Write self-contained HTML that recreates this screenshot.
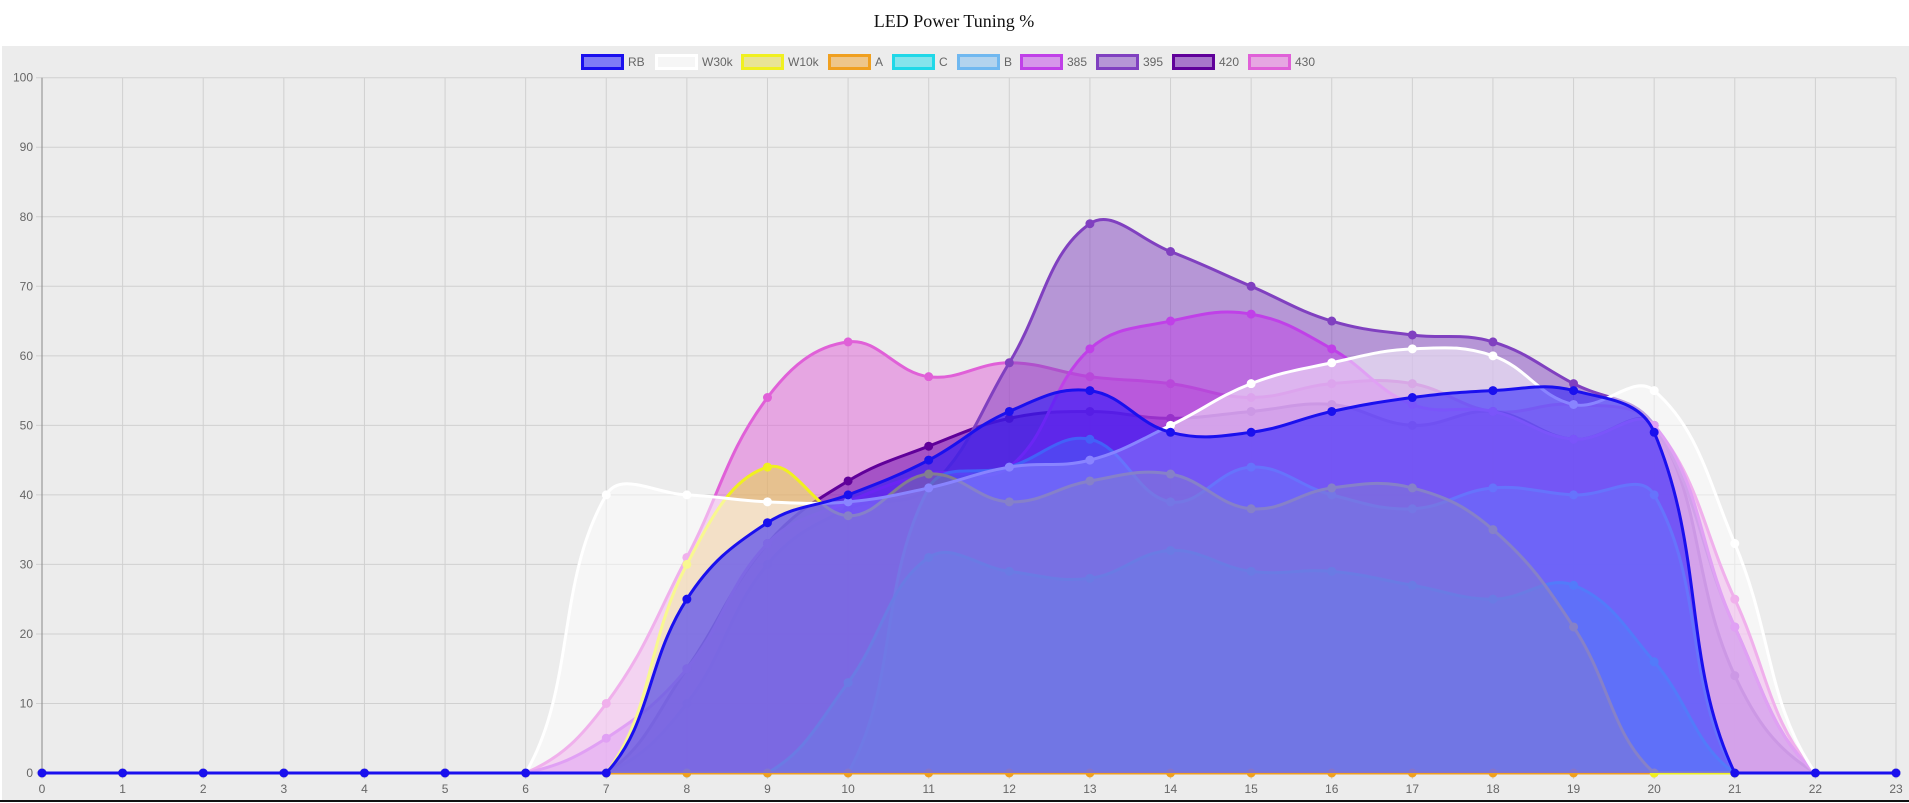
<!DOCTYPE html>
<html><head><meta charset="utf-8"><style>
html,body{margin:0;padding:0;background:#fff;width:1909px;height:803px;overflow:hidden}
svg{display:block}
</style></head><body>
<svg id="c" width="1909" height="803" xmlns="http://www.w3.org/2000/svg" font-family="Liberation Sans, sans-serif">
<rect x="2" y="46" width="1907" height="754" fill="#ececec"/>
<line x1="0" y1="801" x2="1909" y2="801" stroke="#111" stroke-width="2"/>
<text x="954" y="27" text-anchor="middle" font-family="Liberation Serif, serif" font-size="18" fill="#111">LED Power Tuning %</text>
<g id="grid"></g>
<g id="series"></g>
<g id="legend" font-size="12" fill="#666"></g>
</svg>
<script>
const X0=42,DX=(1896-42)/23,Y0=773,YH=695.3;
const xp=i=>X0+i*DX, yp=v=>Y0-v*YH/100;
const ns="http://www.w3.org/2000/svg";
function el(t,a,p){const e=document.createElementNS(ns,t);for(const k in a)e.setAttribute(k,a[k]);p.appendChild(e);return e;}
const g=document.getElementById('grid');
for(let v=0;v<=100;v+=10){el('line',{x1:X0-6,x2:1896,y1:yp(v),y2:yp(v),stroke:'#d0d0d0','stroke-width':1},g);
 const t=el('text',{x:X0-9,y:yp(v)+4,'text-anchor':'end','font-size':12,fill:'#666'},g);t.textContent=v;}
for(let i=0;i<=23;i++){el('line',{x1:xp(i),x2:xp(i),y1:yp(100),y2:Y0+6,stroke:'#d0d0d0','stroke-width':1},g);
 const t=el('text',{x:xp(i),y:Y0+20,'text-anchor':'middle','font-size':12,fill:'#666'},g);t.textContent=i;}
el('line',{x1:X0,x2:X0,y1:yp(100),y2:Y0,stroke:'#888'},g);
el('line',{x1:X0,x2:1896,y1:Y0,y2:Y0,stroke:'#888'},g);
const z=n=>Array(n).fill(0);
const S=[
['RB','#1a10ee','rgba(20,10,255,0.5)',[...z(8),25,36,40,45,52,55,49,49,52,54,55,55,49,0,0,0]],
['W30k','#ffffff','rgba(255,255,255,0.5)',[...z(7),40,40,39,39,41,44,45,50,56,59,61,60,53,55,33,0,0]],
['W10k','#f0f020','rgba(230,220,60,0.5)',[...z(8),30,44,37,43,39,42,43,38,41,41,35,21,0,0,0,0]],
['A','#f0a020','rgba(240,160,40,0.5)',z(24)],
['C','#20d8e8','rgba(30,220,235,0.5)',[...z(10),13,31,29,28,32,29,29,27,25,27,16,0,0,0]],
['B','#70b8f0','rgba(120,185,240,0.5)',[...z(11),41,44,48,39,44,40,38,41,40,40,0,0,0]],
['385','#c040e8','rgba(192,64,232,0.5)',[...z(7),5,15,33,39,43,44,61,65,66,61,53,52,48,50,21,0,0]],
['395','#8040c0','rgba(128,64,192,0.5)',[...z(8),10,30,38,41,59,79,75,70,65,63,62,56,50,21,0,0]],
['420','#60009a','rgba(100,0,170,0.5)',[...z(8),15,33,42,47,51,52,51,52,53,50,52,48,50,14,0,0]],
['430','#e060d8','rgba(224,96,216,0.5)',[...z(7),10,31,54,62,57,59,57,56,54,56,56,52,53,50,25,0,0]],
];
function path(d){
 const P=d.map((v,i)=>[xp(i),yp(v)]);const n=P.length,t=0.4;const cp=[];
 for(let i=0;i<n;i++){const p=P[Math.max(0,i-1)],c=P[i],nx=P[Math.min(n-1,i+1)];
  const d01=Math.hypot(c[0]-p[0],c[1]-p[1]),d12=Math.hypot(nx[0]-c[0],nx[1]-c[1]);
  let s01=d01/(d01+d12)||0,s12=d12/(d01+d12)||0;const fa=t*s01,fb=t*s12;
  let pcy=c[1]-fa*(nx[1]-p[1]),ncy=c[1]+fb*(nx[1]-p[1]);
  pcy=Math.min(Y0,Math.max(yp(100),pcy));ncy=Math.min(Y0,Math.max(yp(100),ncy));
  cp.push([[c[0]-fa*(nx[0]-p[0]),pcy],[c[0]+fb*(nx[0]-p[0]),ncy]]);}
 let s='M'+P[0][0]+','+P[0][1];
 for(let i=1;i<n;i++)s+=`C${cp[i-1][1][0]},${cp[i-1][1][1]} ${cp[i][0][0]},${cp[i][0][1]} ${P[i][0]},${P[i][1]}`;
 return [s,P];}
const sg=document.getElementById('series');
for(let k=S.length-1;k>=0;k--){const [nm,bc,fc,d]=S[k];const [s,P]=path(d);
 el('path',{d:s+`L${xp(23)},${Y0}L${X0},${Y0}Z`,fill:fc,stroke:'none'},sg);
 el('path',{d:s,fill:'none',stroke:bc,'stroke-width':3},sg);
 P.forEach(p=>el('circle',{cx:p[0],cy:p[1],r:4,fill:bc,stroke:bc},sg));}
const L=[581,655,741,828,892,957,1020,1096,1172,1248];
const lg=document.getElementById('legend');
S.forEach((s,i)=>{el('rect',{x:L[i]+1.5,y:55.5,width:40,height:13,fill:s[2],stroke:s[1],'stroke-width':3},lg);
 const t=el('text',{x:L[i]+47,y:66,'font-size':12,fill:'#666'},lg);t.textContent=s[0];});
</script>
</body></html>
